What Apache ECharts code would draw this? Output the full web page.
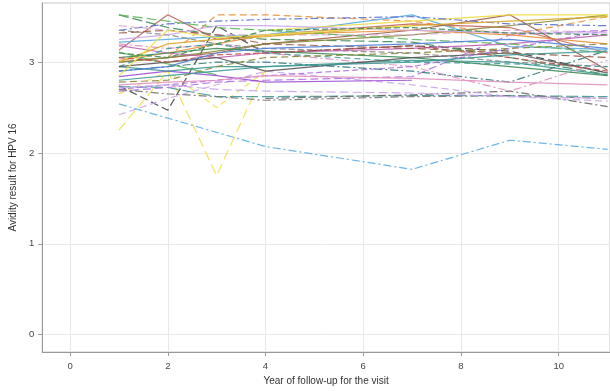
<!DOCTYPE html>
<html>
<head>
<meta charset="utf-8">
<script src="https://cdn.jsdelivr.net/npm/echarts@6/dist/echarts.min.js"></script>
<style>
  html, body { margin: 0; padding: 0; background: #fff; }
  #avidity { width: 610px; height: 391px; }
</style>
</head>
<body>
<div id="avidity"></div>
<script>
// visit years
const years = [1, 2, 3, 4, 7, 9, 11]
const xTicks = [0, 2, 4, 6, 8, 10]
const yTicks = [0, 1, 2, 3]

// one row per subject: avidity at each visit (null = no visit)
const s01 = [2.54, null, null, 2.07, 1.82, 2.14, 2.04]
const s02 = [2.25, 2.90, 1.75, 2.92, null, null, null]
const s03 = [2.65, 2.90, 2.50, 2.90, null, null, null]
const s04 = [2.74, 2.47, 3.40, 3.10, 3.18, 3.12, 2.88]
const s05 = [3.13, 3.52, 3.25, 3.30, 3.42, 3.38, 3.10]
const s06 = [null, 3.05, 3.52, 3.52, 3.45, 3.30, 3.50]
const s07 = [3.52, 3.38, 3.30, 3.25, 3.22, 3.05, 2.86]
const s08 = [2.73, 2.72, 2.62, 2.62, 2.63, 2.63, 2.62]
const s09 = [null, null, null, 2.60, 2.64, 2.68, 2.51]
const s10 = [3.11, 2.98, 2.86, null, null, null, null]
const s11 = [3.22, 3.25, 3.28, 3.30, 3.52, 3.17, 3.14]
const s12 = [2.42, 2.60, 2.75, 2.90, 2.75, 2.62, 2.57]
const s13 = [2.68, 2.72, 2.78, 2.80, 2.84, 3.30, 3.35]
const s14 = [2.84, 2.90, 2.85, 2.78, 2.80, null, null]
const s15 = [3.00, 3.05, 3.10, 3.20, 3.35, 3.52, 2.91]
const s16 = [3.00, 3.05, 3.12, 3.20, 3.30, 3.40, 3.52]
const s17 = [null, null, null, 3.35, 3.45, 3.52, 3.52]
const s18 = [3.35, 3.42, 3.45, 3.47, 3.50, 3.42, 3.40]
const s19 = [3.35, 3.30, 3.20, 3.15, 3.10, 3.00, 2.95]
const s20 = [2.95, 2.90, 2.95, 2.95, 3.02, 3.00, 2.86]
const s21 = [2.90, 2.95, 3.00, 3.00, 2.90, 2.78, 3.13]
const s22 = [3.20, 3.15, 3.20, 3.10, 2.95, 2.68, 3.02]
const s23 = [3.40, 3.35, 3.30, 3.30, 3.30, 3.35, 3.33]
const s24 = [3.18, 3.10, 3.05, 3.10, 3.15, 3.20, 3.30]
const s25 = [3.02, 3.10, 3.20, 3.30, 3.35, 3.30, 3.20]
const s26 = [3.00, 3.20, 3.25, 3.28, 3.40, 3.45, 3.50]
const s27 = [3.52, 3.45, 3.38, 3.35, 3.25, 3.20, 3.10]
const s28 = [3.05, 3.10, 3.15, 3.12, 3.05, 2.95, 2.85]
const s29 = [2.95, 3.15, 3.20, 3.10, 3.00, 2.98, 2.95]
const s30 = [2.95, 3.00, 3.05, 2.90, 3.05, 3.10, 2.88]
const s31 = [2.70, 2.75, 2.80, 2.85, 2.95, 3.15, 3.35]
const s32 = [3.05, 3.00, 3.08, 3.10, 3.18, 3.05, 2.90]
const s33 = [3.32, 3.35, 3.30, 3.20, 3.15, 3.10, 3.05]
const s34 = [3.25, 3.30, 3.40, 3.40, 3.35, 3.32, 3.32]
const s35 = [2.90, 2.95, 3.10, 3.15, 3.20, 3.25, 3.15]
const s36 = [2.78, 2.80, 2.95, 3.05, 3.10, 3.15, 3.20]
const s37 = [2.70, 2.65, 2.62, 2.58, 2.62, 2.63, 2.60]
const s38 = [2.85, 3.35, 3.27, 3.30, 3.40, null, null]
const s39 = [2.80, 2.85, 2.90, 2.95, 3.00, 3.08, 3.12]
const s40 = [2.75, 2.78, 2.80, 2.85, 2.82, 2.78, 2.75]
const s41 = [2.72, 2.75, 2.70, 2.68, 2.66, 2.62, 2.60]
const s42 = [3.10, 3.05, 3.20, 3.35, 3.38, 3.32, 3.30]

const subjects = [s01, s02, s03, s04, s05, s06, s07, s08, s09, s10, s11, s12, s13, s14,
  s15, s16, s17, s18, s19, s20, s21, s22, s23, s24, s25, s26, s27, s28, s29, s30, s31,
  s32, s33, s34, s35, s36, s37, s38, s39, s40, s41, s42]

// look of each subject line: [colour, dash]
const dashDot = [8, 3, 2, 3]
const looks = [
  ['#5aaee6', dashDot], ['#f0e050', [10, 5]], ['#f0e050', [6, 4]], ['#444444', [8, 4]],
  ['#c0605a', 'solid'], ['#e8913a', [7, 4]], ['#3d8b55', [10, 4]], ['#3f9a96', [12, 4]],
  ['#666666', dashDot], ['#5cb85c', 'solid'], ['#5aaee6', 'solid'], ['#c9a6ec', [7, 4]],
  ['#b070e0', [8, 4]], ['#9b4fd6', 'solid'], ['#9b5a45', 'solid'], ['#8c8a3a', 'solid'],
  ['#f0dc40', 'solid'], ['#5a6fd0', dashDot], ['#888888', [6, 3]], ['#3f9a96', 'solid'],
  ['#2e7a7a', dashDot], ['#e090c0', dashDot], ['#d9a8d8', [8, 4]], ['#c060b0', 'solid'],
  ['#e8913a', 'solid'], ['#d9a827', 'solid'], ['#5cb85c', [10, 4]], ['#3d8b55', 'solid'],
  ['#3f9a96', [6, 4]], ['#555555', 'solid'], ['#b070e0', [6, 3]], ['#c0504d', [6, 3]],
  ['#9b5a45', [8, 4]], ['#c9a6ec', 'solid'], ['#4f7fd8', 'solid'], ['#8c8a3a', [7, 4]],
  ['#777777', dashDot], ['#f0e050', 'solid'], ['#3f9a96', 'solid'], ['#e090c0', 'solid'],
  ['#c9a6ec', [9, 4]], ['#3d8b55', [6, 3]]
]

const series = subjects.map((vals, i) => ({
  type: 'line',
  data: years.map((yr, j) => [yr, vals[j]]).filter(p => p[1] !== null),
  symbol: 'none',
  silent: true,
  lineStyle: {
    color: looks[i][0],
    type: looks[i][1],
    width: 1.2,
    opacity: 0.9
  }
}))

const chart = echarts.init(document.getElementById('avidity'))
chart.setOption({
  animation: false,
  textStyle: { fontFamily: 'Liberation Sans, Arial, sans-serif' },
  grid: {
    left: 42,
    right: 0,
    top: 3,
    bottom: 37,
    show: true,
    borderColor: '#c8c8c8',
    borderWidth: 1
  },
  xAxis: {
    type: 'value',
    min: -0.57,
    max: 11.05,
    name: 'Year of follow-up for the visit',
    nameLocation: 'middle',
    nameGap: 24,
    nameTextStyle: { fontSize: 10, color: '#333' },
    axisLine: { onZero: false, lineStyle: { color: '#999', width: 1 } },
    axisTick: { show: true, length: 4, customValues: xTicks, lineStyle: { color: '#999' } },
    axisLabel: { customValues: xTicks, fontSize: 9.5, color: '#444', margin: 9 },
    splitLine: { show: true, lineStyle: { color: '#e8e8e8', width: 1 } }
  },
  yAxis: {
    type: 'value',
    min: -0.19,
    max: 3.65,
    name: 'Avidity result for HPV 16',
    nameLocation: 'middle',
    nameGap: 24,
    nameTextStyle: { fontSize: 10, color: '#333' },
    axisLine: { show: true, onZero: false, lineStyle: { color: '#999', width: 1 } },
    axisTick: { show: true, length: 4, customValues: yTicks, lineStyle: { color: '#999' } },
    axisLabel: { customValues: yTicks, fontSize: 9.5, color: '#444', margin: 8 },
    splitLine: { show: true, lineStyle: { color: '#e8e8e8', width: 1 } }
  },
  series: series
})
</script>
</body>
</html>
